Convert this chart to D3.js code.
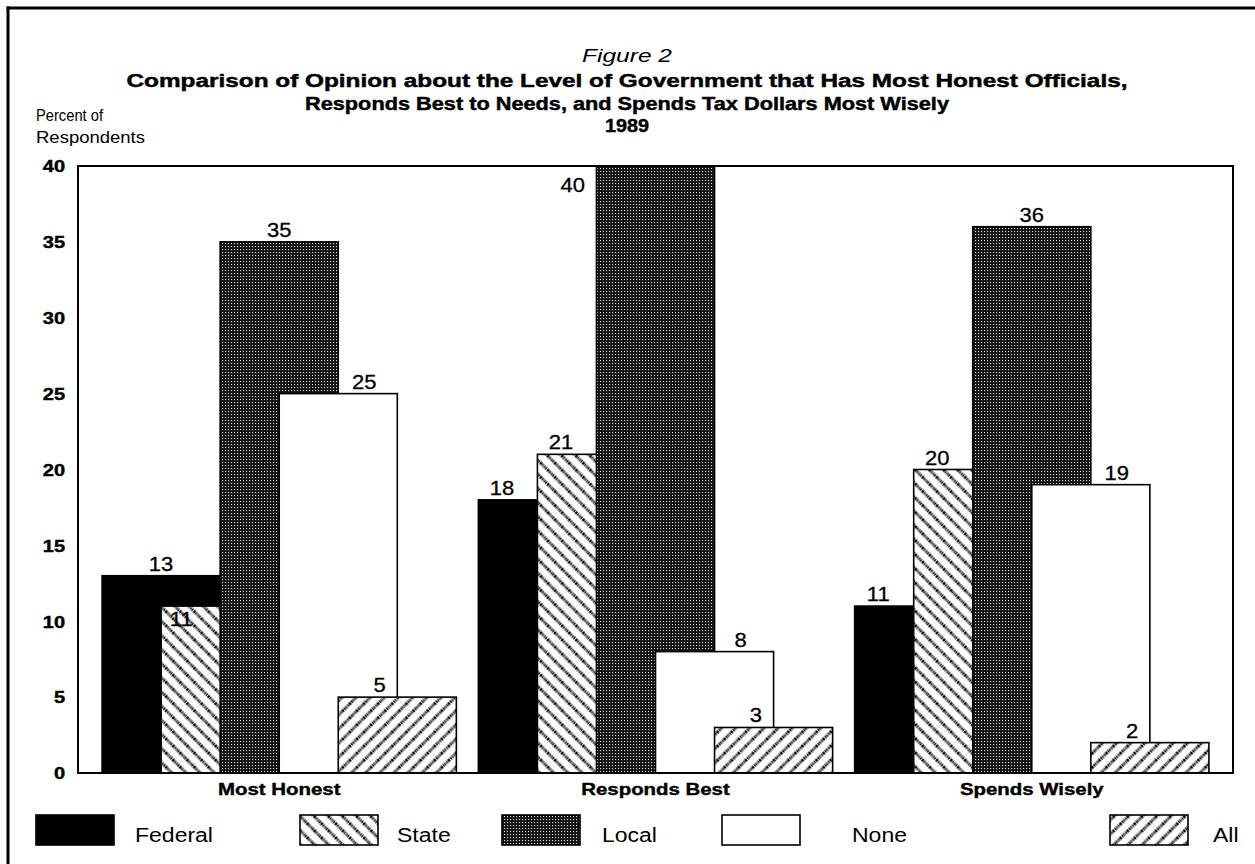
<!DOCTYPE html>
<html><head><meta charset="utf-8">
<script src="https://cdn.jsdelivr.net/npm/d3@7"></script>
<style>html,body{margin:0;background:#fff;overflow:hidden} svg{display:block}</style>
</head><body>
<svg id="chart" width="1255" height="864"></svg>
<script>
// ---- data ----
const categories = ["Most Honest", "Responds Best", "Spends Wisely"];
const seriesNames = ["Federal", "State", "Local", "None", "All"];
const federalValues = [13, 18, 11];
const stateValues = [11, 21, 20];
const localValues = [35, 40, 36];
const noneValues = [25, 8, 19];
const allValues = [5, 3, 2];
const yTicks = [0, 5, 10, 15, 20, 25, 30, 35, 40];

const seriesValues = [federalValues, stateValues, localValues, noneValues, allValues];
const fills = ["#000", "url(#hatchBack)", "url(#stipple)", "#fff", "url(#hatchFwd)"];

const svg = d3.select("#chart");
const W = 1255, H = 864;
const plot = {left: 78, right: 1233, top: 166, bottom: 773};

// ---- patterns ----
const defs = svg.append("defs");
function hatch(id, angle) {
  const p = defs.append("pattern").attr("id", id).attr("patternUnits", "userSpaceOnUse")
    .attr("width", 10).attr("height", 10).attr("patternTransform", `rotate(${angle})`);
  p.append("rect").attr("width", 10).attr("height", 10).attr("fill", "#fff");
  p.append("line").attr("x1", 5).attr("x2", 5).attr("y1", 0).attr("y2", 10)
    .attr("stroke", "#000").attr("stroke-width", 3).attr("stroke-dasharray", "1.4 0.8");
}
hatch("hatchBack", -45);
hatch("hatchFwd", 45);
const st = defs.append("pattern").attr("id", "stipple").attr("patternUnits", "userSpaceOnUse")
  .attr("width", 3).attr("height", 3);
st.append("rect").attr("width", 3).attr("height", 3).attr("fill", "#141414");
st.append("rect").attr("x", 0).attr("y", 0).attr("width", 1.1).attr("height", 1.1).attr("fill", "#d8d8d8");

function stretch(sel, k) {
  sel.each(function() {
    const len = this.getComputedTextLength();
    d3.select(this).attr("textLength", len * k).attr("lengthAdjust", "spacingAndGlyphs");
  });
}

// ---- outer border (left and top edges only are in view) ----
svg.append("line").attr("x1", 8).attr("x2", 8).attr("y1", 6.5).attr("y2", H)
  .attr("stroke", "#000").attr("stroke-width", 3);
svg.append("line").attr("x1", 6.5).attr("x2", W).attr("y1", 8).attr("y2", 8)
  .attr("stroke", "#000").attr("stroke-width", 3);

// ---- titles ----
const font = "'Liberation Sans', Arial, sans-serif";
svg.append("text").attr("x", 627).attr("y", 62).attr("text-anchor", "middle")
  .attr("font-family", font).attr("font-style", "italic").attr("font-size", 19)
  .attr("textLength", 90).attr("lengthAdjust", "spacingAndGlyphs").text("Figure 2");
const titleLines = [
  ["Comparison of Opinion about the Level of Government that Has Most Honest Officials,", 87, 1001],
  ["Responds Best to Needs, and Spends Tax Dollars Most Wisely", 110, 644],
  ["1989", 132, 44]
];
titleLines.forEach(([t, yy, len]) => {
  svg.append("text").attr("x", 627).attr("y", yy).attr("text-anchor", "middle")
    .attr("font-family", font).attr("font-weight", "bold").attr("font-size", 18)
    .attr("stroke", "#000").attr("stroke-width", 0.45)
    .attr("textLength", len).attr("lengthAdjust", "spacingAndGlyphs").text(t);
});
svg.append("text").attr("x", 36).attr("y", 121).attr("font-family", font).attr("font-size", 16)
  .attr("textLength", 67).attr("lengthAdjust", "spacingAndGlyphs").text("Percent of");
svg.append("text").attr("x", 36).attr("y", 143).attr("font-family", font).attr("font-size", 16)
  .attr("textLength", 109).attr("lengthAdjust", "spacingAndGlyphs").text("Respondents");

// ---- scales ----
const y = d3.scaleLinear().domain([0, 40]).range([plot.bottom, plot.top]);
const x0 = d3.scaleBand().domain(categories).range([plot.left, plot.right])
  .paddingInner(0.0585).paddingOuter(0.064);
const bw = x0.bandwidth() / 3;
const xs = d3.scaleLinear().domain([0, 1]).range([0, bw / 2]); // series offset step

// ---- axes ----
const yAxis = svg.append("g").attr("transform", `translate(${plot.left},0)`)
  .call(d3.axisLeft(y).tickValues(yTicks).tickSize(0).tickPadding(13));
yAxis.select(".domain").remove();
yAxis.selectAll("text").attr("font-family", font).attr("font-weight", "bold").attr("font-size", 16)
  .attr("fill", "#000").attr("stroke", "#000").attr("stroke-width", 0.4).attr("dy", "0.36em");
stretch(yAxis.selectAll("text"), 1.25);

const xAxis = svg.append("g").attr("transform", `translate(0,${plot.bottom})`)
  .call(d3.axisBottom(x0).tickSize(0).tickPadding(10));
xAxis.select(".domain").remove();
xAxis.selectAll("text").attr("font-family", font).attr("font-weight", "bold").attr("font-size", 17)
  .attr("fill", "#000").attr("stroke", "#000").attr("stroke-width", 0.4);
stretch(xAxis.selectAll("text"), 1.2);

// ---- bars ----
const barsG = svg.append("g");
const labelsG = svg.append("g");
categories.forEach((cat, g) => {
  seriesNames.forEach((name, s) => {
    const v = seriesValues[s][g];
    const left = x0(cat) + xs(s);
    barsG.append("rect").attr("x", left).attr("y", y(v)).attr("width", bw)
      .attr("height", y(0) - y(v)).attr("fill", fills[s])
      .attr("stroke", "#000").attr("stroke-width", 1.6);

    const prev = s > 0 ? seriesValues[s - 1][g] : -Infinity;
    const next = s < seriesNames.length - 1 ? seriesValues[s + 1][g] : -Infinity;
    const prevWhite = s > 0 && fills[s - 1] === "#fff";
    const leftBlocked = prev > v && !prevWhite;
    const rightBlocked = next > v;
    let lx, ly;
    if (v >= y.domain()[1]) { lx = left - 0.2 * bw; ly = y(v) + 26; }
    else if (leftBlocked && rightBlocked) { lx = left + 0.17 * bw; ly = y(v) + 20; }
    else if (leftBlocked) { lx = left + 0.72 * bw; ly = y(v) - 5; }
    else if (rightBlocked) { lx = left + 0.2 * bw; ly = y(v) - 5; }
    else if (prevWhite && prev > v) { lx = left + 0.35 * bw; ly = y(v) - 5; }
    else { lx = left + 0.5 * bw; ly = y(v) - 5; }
    labelsG.append("text").attr("x", lx).attr("y", ly).attr("text-anchor", "middle")
      .attr("font-family", font).attr("font-size", 20).attr("fill", "#000")
      .attr("stroke", "#000").attr("stroke-width", 0.3)
      .text(v);
  });
});
stretch(labelsG.selectAll("text"), 1.1);

// ---- plot frame ----
svg.append("rect").attr("x", plot.left).attr("y", plot.top)
  .attr("width", plot.right - plot.left).attr("height", plot.bottom - plot.top)
  .attr("fill", "none").attr("stroke", "#000").attr("stroke-width", 2);

// ---- legend ----
const legendBoxX = [36, 300, 502, 722, 1110];
const legendTextX = [135, 397, 602, 852, 1213];
const lg = svg.append("g");
seriesNames.forEach((name, s) => {
  lg.append("rect").attr("x", legendBoxX[s]).attr("y", 815).attr("width", 78).attr("height", 30)
    .attr("fill", fills[s]).attr("stroke", "#000").attr("stroke-width", 1.6);
  lg.append("text").attr("x", legendTextX[s]).attr("y", 842)
    .attr("font-family", font).attr("font-size", 20).attr("fill", "#000").text(name);
});
stretch(lg.selectAll("text"), 1.15);
</script>
</body></html>
